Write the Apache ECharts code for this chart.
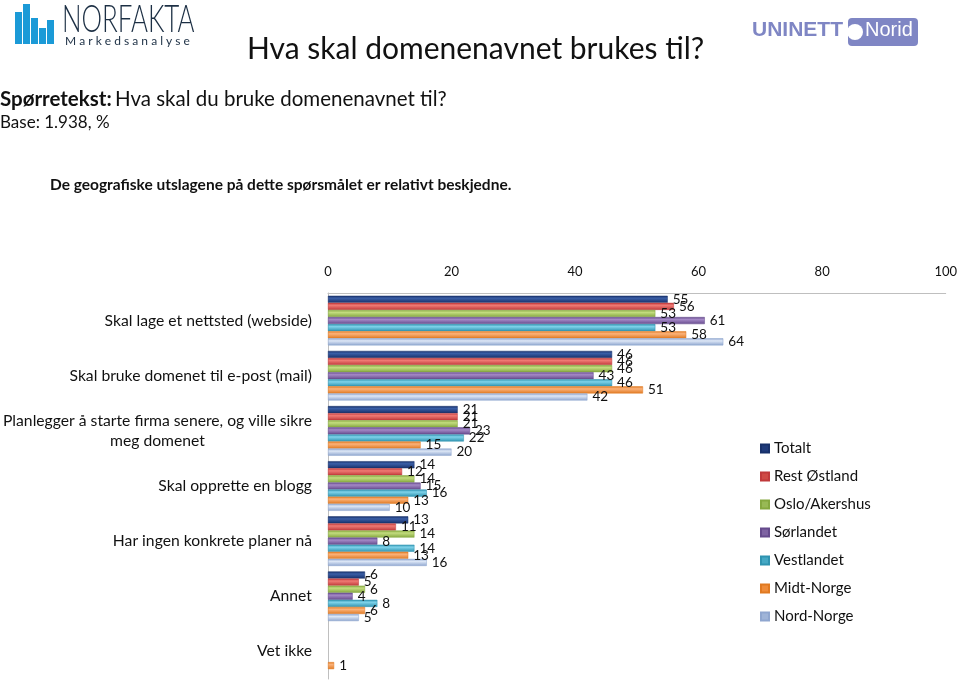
<!DOCTYPE html>
<html>
<head>
<meta charset="utf-8">
<script src="https://cdn.jsdelivr.net/npm/echarts@6/dist/echarts.min.js"></script>
<style>
html,body{margin:0;padding:0;background:#fff;}
#c{width:960px;height:682px;}
</style>
</head>
<body>
<div id="c"></div>
<script>
const categories = [
  'Skal lage et nettsted (webside)',
  'Skal bruke domenet til e-post (mail)',
  'Planlegger å starte firma senere, og ville sikre\nmeg domenet',
  'Skal opprette en blogg',
  'Har ingen konkrete planer nå',
  'Annet',
  'Vet ikke'
];
const seriesNames = ['Totalt','Rest Østland','Oslo/Akershus','Sørlandet','Vestlandet','Midt-Norge','Nord-Norge'];
const totalt      = [55, 46, 21, 14, 13, 6, '-'];
const restOstland = [56, 46, 21, 12, 11, 5, '-'];
const osloAkershus= [53, 46, 21, 14, 14, 6, '-'];
const sorlandet   = [61, 43, 23, 15, 8, 4, '-'];
const vestlandet  = [53, 46, 22, 16, 14, 8, '-'];
const midtNorge   = [58, 51, 15, 13, 13, 6, 1];
const nordNorge   = [64, 42, 20, 10, 16, 5, '-'];
const seriesData = [totalt, restOstland, osloAkershus, sorlandet, vestlandet, midtNorge, nordNorge];
const xTicks = [0, 20, 40, 60, 80, 100];

const colors = [
  ['#3a5ea6','#17306a'],
  ['#f07a74','#c0393a'],
  ['#c3dc7f','#85a83f'],
  ['#a488c6','#654a8c'],
  ['#7fd3ea','#2f93b0'],
  ['#fbb27a','#e07a22'],
  ['#dde7f6','#8fa6cf']
];
const legendColors = ['#1f3a7a','#cf4a45','#98b955','#7e63a2','#45a8c4','#ef8c3a','#9fb4d8'];

const chart = echarts.init(document.getElementById('c'));
const FONT = 'Lato, "Open Sans", sans-serif';

const series = seriesNames.map((name, i) => ({
  name: name,
  type: 'bar',
  data: seriesData[i],
  barGap: '0%',
  barCategoryGap: '10%',
  itemStyle: {
    color: new echarts.graphic.LinearGradient(0, 0, 0, 1, [
      {offset: 0, color: colors[i][1]},
      {offset: 0.35, color: colors[i][0]},
      {offset: 1, color: colors[i][1]}
    ]),
    borderColor: colors[i][1],
    borderWidth: 0.5
  },
  label: {
    show: true,
    position: 'right',
    distance: 5,
    color: '#111',
    fontSize: 13.5,
    fontFamily: FONT
  }
}));

chart.setOption({
  animation: false,
  backgroundColor: '#fff',
  color: legendColors,
  grid: {left: 327, right: 12, top: 293, bottom: 3, containLabel: false},
  legend: {
    orient: 'vertical',
    left: 755,
    top: 436,
    itemWidth: 8,
    itemHeight: 8,
    itemGap: 13,
    icon: 'rect',
    textStyle: {fontSize: 15, fontFamily: FONT, color: '#111', padding: [0,0,0,0]},
    data: seriesNames.map((n, i) => ({name: n, itemStyle: {color: legendColors[i]}}))
  },
  xAxis: {
    type: 'value',
    position: 'top',
    min: 0,
    max: 100,
    interval: 20,
    axisLine: {show: true, lineStyle: {color: '#bfbfbf', width: 1}},
    axisTick: {show: false},
    splitLine: {show: false},
    axisLabel: {
      fontSize: 13, fontFamily: FONT, color: '#111', margin: 15,
      formatter: v => xTicks.indexOf(v) >= 0 ? String(v) : ''
    }
  },
  yAxis: {
    type: 'category',
    inverse: true,
    data: categories,
    axisLine: {show: true, lineStyle: {color: '#bfbfbf', width: 1}},
    axisTick: {show: false},
    axisLabel: {
      fontSize: 15.7, fontFamily: FONT, color: '#111', margin: 16,
      lineHeight: 20,
      formatter: function (v) {
        if (v.indexOf('\n') >= 0) {
          const parts = v.split('\n');
          return '{a|' + parts[0] + '}\n{b|' + parts[1] + '}';
        }
        return v;
      },
      rich: {
        a: {fontSize: 15.7, fontFamily: FONT, color: '#111', lineHeight: 20},
        b: {fontSize: 15.7, fontFamily: FONT, color: '#111', lineHeight: 20, align: 'center'}
      }
    }
  },
  graphic: [
    // NORFAKTA logo bars
    {type: 'rect', shape: {x: 15, y: 12, width: 7, height: 32}, style: {fill: '#1b9ad7'}},
    {type: 'rect', shape: {x: 23, y: 4, width: 7, height: 40}, style: {fill: '#1b9ad7'}},
    {type: 'rect', shape: {x: 31, y: 18, width: 7, height: 26}, style: {fill: '#1b9ad7'}},
    {type: 'rect', shape: {x: 39, y: 28, width: 7, height: 16}, style: {fill: '#1b9ad7'}},
    {type: 'rect', shape: {x: 47, y: 20, width: 7, height: 24}, style: {fill: '#1b9ad7'}},
    {type: 'text', x: 62, y: 2, scaleX: 0.7, style: {text: 'NORFAKTA', font: '300 37px ' + FONT, fill: '#1c2f44'}},
    {type: 'text', left: 65, top: 35, style: {text: 'M a r k e d s a n a l y s e', font: '12px ' + FONT, fill: '#1c2f44'}},
    // UNINETT Norid logo
    {type: 'text', left: 752, top: 20, style: {text: 'UNINETT', font: 'bold 21px "Liberation Sans", sans-serif', fill: '#7f86c4'}},
    {type: 'rect', shape: {x: 848, y: 18, width: 70, height: 28, r: 4}, style: {fill: '#7f86c4'}},
    {type: 'circle', shape: {cx: 855, cy: 32, r: 8}, style: {fill: '#ffffff'}},
    {type: 'text', left: 865, top: 20, style: {text: 'Norid', font: '20px "Liberation Sans", sans-serif', fill: '#ffffff'}},
    // Titles
    {type: 'text', left: 247, top: 34, style: {text: 'Hva skal domenenavnet brukes til?', font: '30px ' + FONT, fill: '#111'}},
    {type: 'text', left: 0, top: 89, style: {
      text: '{b|Spørretekst:} {n|Hva skal du bruke domenenavnet til?}',
      rich: {b: {font: 'bold 20.5px ' + FONT, fill: '#111'}, n: {font: '20.5px ' + FONT, fill: '#111'}}
    }},
    {type: 'text', left: 0, top: 114, style: {text: 'Base: 1.938, %', font: '17px ' + FONT, fill: '#111'}},
    {type: 'text', left: 50, top: 177, style: {text: 'De geografiske utslagene på dette spørsmålet er relativt beskjedne.', font: 'bold 15.5px ' + FONT, fill: '#111'}}
  ],
  series: series
});
</script>
</body>
</html>
